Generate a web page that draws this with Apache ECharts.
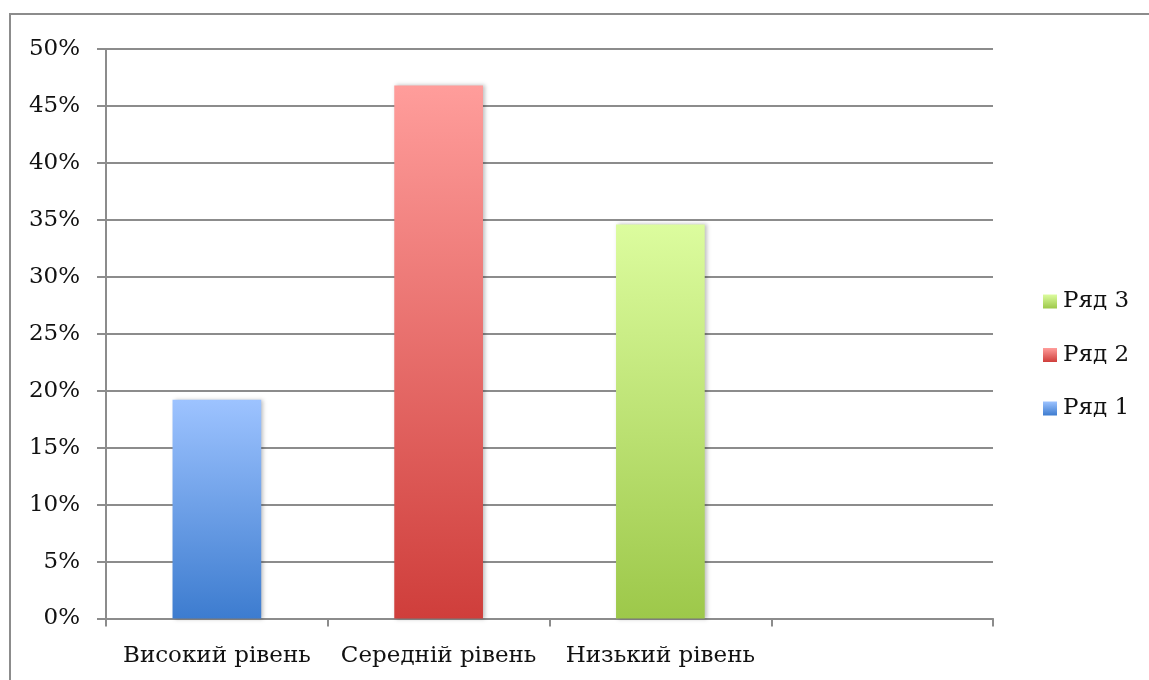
<!DOCTYPE html>
<html>
<head>
<meta charset="utf-8">
<script src="https://cdn.jsdelivr.net/npm/echarts@6/dist/echarts.min.js"></script>
<style>
  html, body { margin: 0; padding: 0; background: #fff; }
  #frame { position: absolute; left: 9px; top: 13px; width: 1200px; height: 720px; border: 2px solid #8c8c8c; box-sizing: border-box; }
  #chart { position: absolute; left: 0; top: 0; width: 1149px; height: 680px; }
</style>
</head>
<body>
<div id="frame"></div>
<div id="chart"></div>
<script>
// Categories along the x axis (the fourth slot is left empty)
const categories = ['Високий рівень', 'Середній рівень', 'Низький рівень', ''];
// Share of respondents per level, in percent
const series1 = [19.2, null, null, null];
const series2 = [null, 46.8, null, null];
const series3 = [null, null, 34.6, null];
const seriesNames = ['Ряд 1', 'Ряд 2', 'Ряд 3'];

const font = 'DejaVu Serif';

function grad(top, bottom) {
  return new echarts.graphic.LinearGradient(0, 0, 0, 1, [
    { offset: 0, color: top },
    { offset: 1, color: bottom }
  ]);
}

function barSeries(name, data, top, bottom) {
  return {
    name: name,
    type: 'bar',
    stack: 'levels',
    data: data,
    barWidth: '40%',
    itemStyle: {
      color: grad(top, bottom),
      shadowColor: 'rgba(0,0,0,0.25)',
      shadowBlur: 4,
      shadowOffsetX: 2
    },
    emphasis: { disabled: true }
  };
}

const chart = echarts.init(document.getElementById('chart'), null, { renderer: 'canvas' });
chart.setOption({
  animation: false,
  backgroundColor: 'transparent',
  grid: { left: 106, top: 49, right: 156, bottom: 61.5, containLabel: false },
  legend: {
    orient: 'vertical',
    left: 1043,
    top: 290,
    padding: 0,
    data: ['Ряд 3', 'Ряд 2', 'Ряд 1'],
    itemWidth: 14,
    itemHeight: 14,
    itemGap: 30.5,
    icon: 'rect',
    textStyle: { fontFamily: font, fontSize: 23, color: '#111', padding: [0, 0, 0, 1] }
  },
  xAxis: {
    type: 'category',
    data: categories,
    axisLine: { lineStyle: { color: '#8c8c8c', width: 2 } },
    axisTick: { show: true, interval: 0, length: 8, lineStyle: { color: '#8c8c8c', width: 2 } },
    axisLabel: { interval: 0, hideOverlap: false, fontFamily: font, fontSize: 23, color: '#111', margin: 26 },
    splitLine: { show: false }
  },
  yAxis: {
    type: 'value',
    min: 0,
    max: 50,
    interval: 5,
    axisLine: { show: true, lineStyle: { color: '#8c8c8c', width: 2 } },
    axisTick: { show: true, length: 9, lineStyle: { color: '#8c8c8c', width: 2 } },
    axisLabel: { fontFamily: font, fontSize: 23, color: '#111', margin: 26, formatter: '{value}%' },
    splitLine: { lineStyle: { color: '#8c8c8c', width: 2 } }
  },
  series: [
    barSeries(seriesNames[0], series1, '#9dc3ff', '#3d7ccf'),
    barSeries(seriesNames[1], series2, '#ff9d9b', '#cf3e3b'),
    barSeries(seriesNames[2], series3, '#dcfc9e', '#9dc84a')
  ]
});
</script>
</body>
</html>
